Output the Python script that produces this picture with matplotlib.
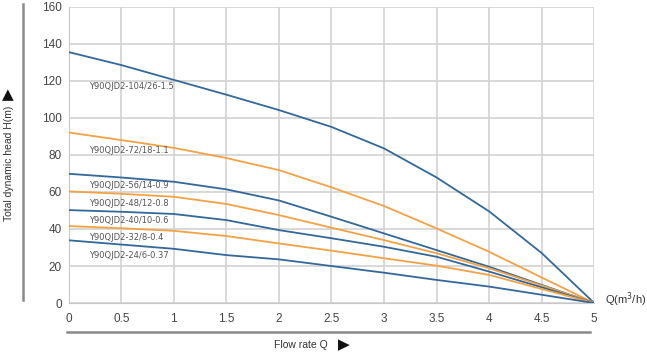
import matplotlib
matplotlib.use('Agg')
import matplotlib.pyplot as plt
from matplotlib.lines import Line2D

plt.rcParams['font.family'] = ['Liberation Sans', 'DejaVu Sans']

flow = [0, 0.5, 1, 1.5, 2, 2.5, 3, 3.5, 4, 4.5, 5]

models = ['Y90QJD2-104/26-1.5', 'Y90QJD2-72/18-1.1', 'Y90QJD2-56/14-0.9',
          'Y90QJD2-48/12-0.8', 'Y90QJD2-40/10-0.6', 'Y90QJD2-32/8-0.4',
          'Y90QJD2-24/6-0.37']

head_104 = [135.5, 128.5, 120.5, 112.5, 104.2, 95.1, 83.5, 67.8, 49.5, 27.0, 0]
head_72 = [92.1, 88.0, 83.8, 78.3, 71.8, 62.5, 52.4, 40.3, 27.7, 13.8, 0]
head_56 = [69.8, 67.8, 65.5, 61.4, 55.4, 46.6, 37.6, 28.6, 19.6, 9.8, 0]
head_48 = [60.3, 59.0, 57.4, 53.5, 47.5, 40.7, 34.0, 26.9, 18.8, 9.5, 0]
head_40 = [50.2, 49.3, 48.1, 44.8, 39.4, 35.0, 30.4, 25.0, 17.0, 8.5, 0]
head_32 = [41.6, 40.4, 39.0, 36.2, 32.2, 28.3, 24.2, 20.2, 15.2, 7.6, 0]
head_24 = [33.9, 31.6, 29.3, 25.9, 23.6, 20.0, 16.4, 12.5, 8.9, 4.5, 0]

heads = [head_104, head_72, head_56, head_48, head_40, head_32, head_24]
label_h = [117, 82.2, 63.3, 53.5, 44.5, 35.3, 25.6]

blue = '#33689a'
orange = '#f2a244'
colors = [blue, orange, blue, orange, blue, orange, blue]

fig = plt.figure(figsize=(6.47, 3.53), dpi=100)
ax = fig.add_axes([0.1062, 0.1414, 0.8123, 0.8396])

for h, c in zip(heads, colors):
    ax.plot(flow, h, color=c, lw=1.3, zorder=3)

for name, y in zip(models, label_h):
    ax.text(0.19, y, name, fontsize=6, color='#555555', va='center',
            family='DejaVu Sans', zorder=4)

ax.set_xlim(0, 5)
ax.set_ylim(0, 160)
ax.set_xticks([0, 0.5, 1, 1.5, 2, 2.5, 3, 3.5, 4, 4.5, 5],
              labels=['0', '0.5', '1', '1.5', '2', '2.5', '3', '3.5', '4', '4.5', '5'])
ax.set_yticks(range(0, 161, 20))
ax.grid(True, color='#d2d2d2', lw=1.2)
ax.set_axisbelow(True)
for s in ax.spines.values():
    s.set_visible(False)
ax.spines['left'].set_visible(True)
ax.spines['left'].set_color('#c8c8c8')
ax.spines['bottom'].set_visible(True)
ax.spines['bottom'].set_color('#c8c8c8')
ax.tick_params(length=0, labelsize=8.5, labelcolor='#444444')
ax.tick_params(axis='x', pad=7)
ax.tick_params(axis='y', pad=5)

ax.text(5.1, 2, 'Q(m$^3$/h)', fontsize=8, color='#333333', va='center', ha='left')

# axis titles with big arrow marks
fig.text(0.0135, 0.537, 'Total dynamic head H(m)', rotation=90, fontsize=7.5,
         color='#333333', ha='center', va='center')
fig.text(0.0125, 0.731, '\u25b2', fontsize=11, color='#111111', ha='center',
         va='center', family='DejaVu Sans')
fig.text(0.4645, 0.0227, 'Flow rate Q', fontsize=7.5, color='#333333',
         ha='center', va='center')
fig.text(0.531, 0.0227, '\u25b6', fontsize=11, color='#111111', ha='center',
         va='center', family='DejaVu Sans')

fig.add_artist(Line2D([0.035, 0.035], [0.15, 0.988], transform=fig.transFigure,
                      color='#8a8a8a', lw=1.8))
fig.add_artist(Line2D([0.104, 0.912], [0.06, 0.06], transform=fig.transFigure,
                      color='#8a8a8a', lw=1.8))

plt.savefig('out.png', dpi=100)
